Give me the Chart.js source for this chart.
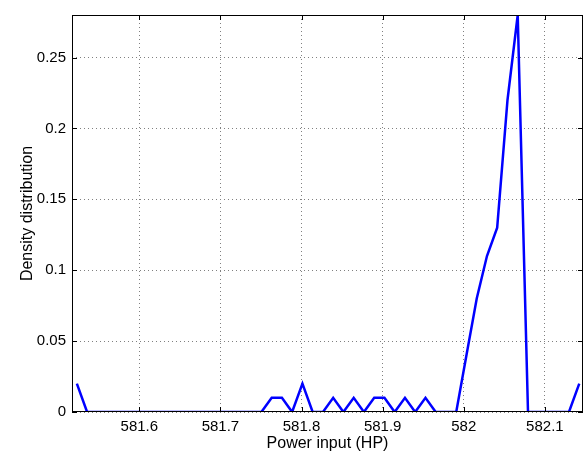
<!DOCTYPE html>
<html>
<head>
<meta charset="utf-8">
<script src="https://cdn.jsdelivr.net/npm/chart.js@4"></script>
<style>
  html, body { margin: 0; padding: 0; background: #fff; }
  #wrap { width: 584px; height: 452px; }
</style>
</head>
<body>
<div id="wrap"><canvas id="densityChart"></canvas></div>
<script>
// power input values (HP) and density
const powerInput = [
    581.523, 581.5356, 581.5483, 581.5609, 581.5736, 581.5862, 581.5988, 581.6115, 581.6241, 581.6368,
    581.6494, 581.662, 581.6747, 581.6873, 581.7, 581.7126, 581.7252, 581.7379, 581.7505, 581.7632,
    581.7758, 581.7884, 581.8011, 581.8137, 581.8264, 581.839, 581.8516, 581.8643, 581.8769, 581.8896,
    581.9022, 581.9148, 581.9275, 581.9401, 581.9528, 581.9654, 581.978, 581.9907, 582.0033, 582.016,
    582.0286, 582.0412, 582.0539, 582.0665, 582.0792, 582.0918, 582.1044, 582.1171, 582.1297, 582.1424
];
const density = [
    0.02, 0, 0, 0, 0, 0, 0, 0, 0, 0,
    0, 0, 0, 0, 0, 0, 0, 0, 0, 0.01,
    0.01, 0, 0.02, 0, 0, 0.01, 0, 0.01, 0, 0.01,
    0.01, 0, 0.01, 0, 0.01, 0, 0, 0, 0.04, 0.08,
    0.11, 0.13, 0.22, 0.28, 0, 0, 0, 0, 0, 0.02
];

const xTicks = [581.6, 581.7, 581.8, 581.9, 582, 582.1];
const xTickLabels = ['581.6', '581.7', '581.8', '581.9', '582', '582.1'];
const yTicks = [0, 0.05, 0.1, 0.15, 0.2, 0.25];
const yTickLabels = ['0', '0.05', '0.1', '0.15', '0.2', '0.25'];

const FONT = 'Liberation Sans, Arial, Helvetica, sans-serif';

// matlab style box with inward ticks on all four sides
const boxPlugin = {
    id: 'box',
    afterDraw(chart) {
        const { ctx, chartArea: a, scales } = chart;
        ctx.save();
        ctx.strokeStyle = '#000';
        ctx.lineWidth = 1;
        ctx.strokeRect(a.left + 0.5, a.top + 0.5, a.right - a.left - 1, a.bottom - a.top - 1);
        ctx.beginPath();
        xTicks.forEach(v => {
            const px = Math.round(scales.x.getPixelForValue(v)) + 0.5;
            ctx.moveTo(px, a.bottom); ctx.lineTo(px, a.bottom - 5);
            ctx.moveTo(px, a.top); ctx.lineTo(px, a.top + 5);
        });
        yTicks.forEach(v => {
            const py = Math.round(scales.y.getPixelForValue(v)) + 0.5;
            ctx.moveTo(a.left, py); ctx.lineTo(a.left + 5, py);
            ctx.moveTo(a.right, py); ctx.lineTo(a.right - 5, py);
        });
        ctx.stroke();
        ctx.restore();
    }
};

new Chart(document.getElementById('densityChart').getContext('2d'), {
    type: 'line',
    data: {
        datasets: [{
            data: powerInput.map((x, i) => ({ x: x, y: density[i] })),
            borderColor: 'rgb(0, 0, 255)',
            borderWidth: 2.5,
            pointRadius: 0,
            fill: false,
            tension: 0
        }]
    },
    options: {
        responsive: true,
        maintainAspectRatio: false,
        animation: false,
        layout: { padding: { top: 10, right: 1, left: 0, bottom: 0 } },
        plugins: { legend: { display: false }, tooltip: { enabled: false } },
        scales: {
            x: {
                type: 'linear',
                min: 581.517,
                max: 582.147,
                afterBuildTicks: s => { s.ticks = xTicks.map(v => ({ value: v })); },
                afterFit: s => { s.height = 40; },
                ticks: {
                    autoSkip: false,
                    maxRotation: 0,
                    padding: 6,
                    color: '#000',
                    font: { family: FONT, size: 15 },
                    callback: (v, i) => xTickLabels[i]
                },
                grid: { color: '#808080', lineWidth: 1, drawTicks: false },
                border: { display: false, dash: [1, 3] },
                title: {
                    display: true,
                    text: 'Power input (HP)',
                    color: '#000',
                    font: { family: FONT, size: 16 },
                    padding: { top: 0, bottom: -1 }
                }
            },
            y: {
                min: 0,
                max: 0.28,
                afterBuildTicks: s => { s.ticks = yTicks.map(v => ({ value: v })); },
                afterFit: s => { s.width = 72; },
                ticks: {
                    autoSkip: false,
                    padding: 6,
                    color: '#000',
                    font: { family: FONT, size: 15 },
                    callback: (v, i) => yTickLabels[i]
                },
                grid: { color: '#808080', lineWidth: 1, drawTicks: false },
                border: { display: false, dash: [1, 3] },
                title: {
                    display: true,
                    text: 'Density distribution',
                    color: '#000',
                    font: { family: FONT, size: 16 },
                    padding: { top: 18, bottom: 0 }
                }
            }
        }
    },
    plugins: [boxPlugin]
});
</script>
</body>
</html>
